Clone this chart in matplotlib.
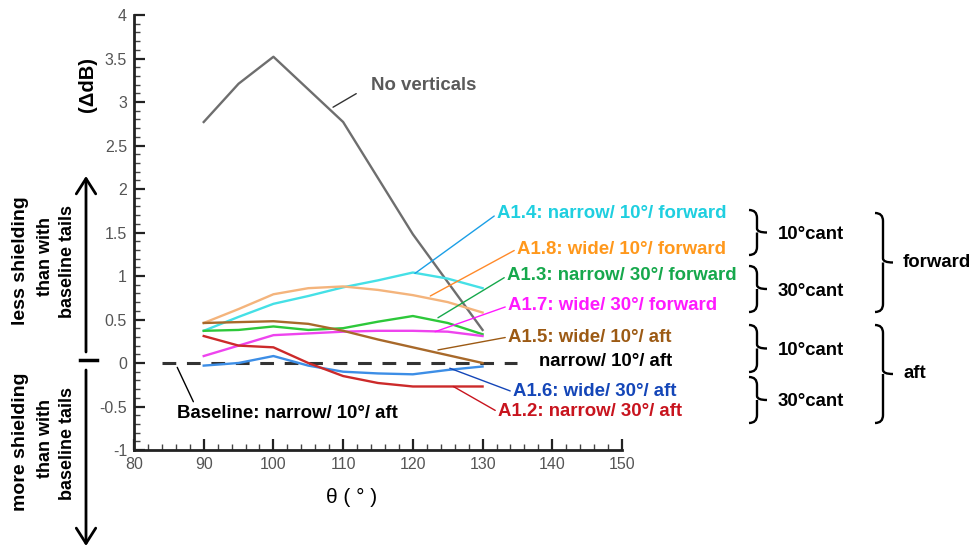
import numpy as np
import matplotlib
matplotlib.use("Agg")
import matplotlib.pyplot as plt
from matplotlib.path import Path
from matplotlib.patches import PathPatch
from matplotlib.ticker import MultipleLocator

plt.rcParams['font.family'] = ['Liberation Sans', 'DejaVu Sans']

# observer angle (deg) and delta dB relative to baseline tails
theta = [90, 95, 100, 105, 110, 115, 120, 125, 130]
a14 = [0.37, 0.53, 0.68, 0.77, 0.87, 0.95, 1.04, 0.97, 0.86]
a18 = [0.46, 0.62, 0.79, 0.86, 0.88, 0.84, 0.78, 0.70, 0.58]
a13 = [0.37, 0.38, 0.42, 0.38, 0.40, 0.475, 0.54, 0.46, 0.33]
a17 = [0.08, 0.20, 0.32, 0.34, 0.36, 0.37, 0.37, 0.36, 0.31]
a15 = [0.46, 0.47, 0.48, 0.45, 0.37, 0.27, 0.18, 0.09, 0.0]
a16 = [-0.03, 0.0, 0.08, -0.03, -0.10, -0.12, -0.13, -0.08, -0.04]
a12 = [0.31, 0.20, 0.18, 0.0, -0.15, -0.23, -0.27, -0.27, -0.27]

theta_nv = [90, 95, 100, 110, 120, 130]
no_vert = [2.77, 3.21, 3.52, 2.77, 1.48, 0.38]

# (values, line colour, label, label colour, leader colour, label pos px, leader tip in data)
series = [
    (a14, '#45e0e6', 'A1.4: narrow/ 10°/ forward', '#1fcfe0', '#1b9fe6', (497, 214), (120.3, 1.03)),
    (a18, '#f4b47c', 'A1.8: wide/ 10°/ forward', '#ff981c', '#ff8a2a', (517, 249), (122.5, 0.77)),
    (a13, '#2dc83a', 'A1.3: narrow/ 30°/ forward', '#16a84c', '#16a84c', (507, 276), (123.6, 0.52)),
    (a17, '#ee44ee', 'A1.7: wide/ 30°/ forward', '#ff1aff', '#ff1aff', (508, 306), (123.2, 0.36)),
    (a15, '#a8692a', 'A1.5: wide/ 10°/ aft', '#9c5a14', '#9c5a14', (508, 337), (123.6, 0.15)),
    (a16, '#3d8ee6', 'A1.6: wide/ 30°/ aft', '#1446b8', '#1446b8', (513, 392), (125.3, -0.06)),
    (a12, '#cc2a2a', 'A1.2: narrow/ 30°/ aft', '#c8141e', '#c8141e', (498, 412), (125.8, -0.27)),
]

fig = plt.figure(figsize=(9.73, 5.48), dpi=100)
ax = fig.add_axes([134 / 973, 1 - 450 / 548, 488 / 973, 435 / 548])
# overlay in pixel coordinates for the side notes and braces
ov = fig.add_axes([0, 0, 1, 1])
ov.set_xlim(0, 973)
ov.set_ylim(548, 0)
ov.axis('off')

ax.plot(theta_nv, no_vert, color='#6e6e6e', lw=1.7)
for vals, lc, lab, tc, arc, pos, tip in series:
    ax.plot(theta, vals, color=lc, lw=1.7)
    ax.annotate(lab, xy=tip, xycoords='data', xytext=pos, textcoords=ov.transData,
                ha='left', va='center', color=tc, fontsize=13.4, fontweight='bold',
                arrowprops=dict(arrowstyle='-', color=arc, lw=1, shrinkA=0, shrinkB=0,
                                relpos=(0, 0.5)))

ax.hlines(0, 84, 135, colors='#333333', lw=2.2, linestyles=(0, (4.5, 3.5)), zorder=1)

ax.annotate('No verticals', xy=(108.55, 2.94), xytext=(371, 85), textcoords=ov.transData,
            ha='left', va='center', color='#5a5a5a', fontsize=13.4, fontweight='bold',
            arrowprops=dict(arrowstyle='-', color='#333333', lw=1, shrinkA=10, shrinkB=0,
                            relpos=(0, 0.5)))
ax.annotate('Baseline: narrow/ 10°/ aft', xy=(86.2, -0.05), xytext=(177, 413),
            textcoords=ov.transData, ha='left', va='center', color='black',
            fontsize=13.4, fontweight='bold',
            arrowprops=dict(arrowstyle='-', color='black', lw=1, shrinkA=0, shrinkB=0,
                            relpos=(0.08, 1.0)))
ov.text(539, 362, 'narrow/ 10°/ aft', ha='left', va='center', fontsize=13.4,
        fontweight='bold', color='black')

ax.set_xlim(80, 150)
ax.set_ylim(-1, 4)
ax.set_xticks(np.arange(80, 151, 10))
ax.set_yticks(np.arange(-1, 4.01, 0.5))
ax.set_yticklabels(['%g' % v for v in np.arange(-1, 4.01, 0.5)])
ax.xaxis.set_minor_locator(MultipleLocator(2))
ax.yaxis.set_minor_locator(MultipleLocator(0.1))
ax.tick_params(which='major', direction='in', length=8, width=1.6, color='#222222',
               labelsize=11.5, labelcolor='#555555', pad=5)
ax.tick_params(which='minor', direction='in', length=4, width=1, color='#444444')
for s in ('top', 'right'):
    ax.spines[s].set_visible(False)
for s in ('left', 'bottom'):
    ax.spines[s].set_linewidth(2)
    ax.spines[s].set_color('#222222')
ax.patch.set_alpha(0)

ov.text(87, 84, '(ΔdB)', rotation=90, ha='center', va='center', fontsize=14.5,
        fontweight='bold')
ov.text(352, 497, 'θ ( ° )', ha='center', va='center', fontsize=15)

# shielding arrows on the left
ov.annotate('', xy=(86, 176), xytext=(86, 352),
            arrowprops=dict(arrowstyle='->,head_length=0.55,head_width=0.35',
                            mutation_scale=20, lw=2, color='black', shrinkA=0, shrinkB=0))
ov.annotate('', xy=(86, 546), xytext=(86, 370),
            arrowprops=dict(arrowstyle='->,head_length=0.55,head_width=0.35',
                            mutation_scale=20, lw=2, color='black', shrinkA=0, shrinkB=0))
ov.plot([80, 97], [360, 360], color='black', lw=2.5)
for cy, word in ((261, 'less shielding'), (442, 'more shielding')):
    ov.text(21, cy, word, rotation=90, ha='center', va='center', fontsize=14,
            fontweight='bold')
    ov.text(46, cy - 4, 'than with', rotation=90, ha='center', va='center',
            fontsize=13, fontweight='bold')
    ov.text(67, cy + 1, 'baseline tails', rotation=90, ha='center', va='center',
            fontsize=13, fontweight='bold')


def brace(x, y0, y1, tip=10, curl=8):
    mid = (y0 + y1) / 2
    verts = [(x - curl, y0), (x, y0), (x, y0 + curl),
             (x, mid - 4), (x, mid), (x + tip, mid),
             (x, mid), (x, mid), (x, mid + 4),
             (x, y1 - curl), (x, y1), (x - curl, y1)]
    codes = [Path.MOVETO, Path.CURVE3, Path.CURVE3,
             Path.LINETO, Path.CURVE3, Path.CURVE3,
             Path.MOVETO, Path.LINETO, Path.LINETO,
             Path.LINETO, Path.CURVE3, Path.CURVE3]
    ov.add_patch(PathPatch(Path(verts, codes), fill=False, lw=1.7, color='black'))


cant_groups = [(210, 255, '10°cant'), (266, 312, '30°cant'),
               (325, 372, '10°cant'), (377, 423, '30°cant')]
for y0, y1, lab in cant_groups:
    brace(757, y0, y1)
    ov.text(778, (y0 + y1) / 2 + 2, lab, ha='left', va='center', fontsize=13.4,
            fontweight='bold')
for y0, y1, lab in ((213, 312, 'forward'), (325, 423, 'aft')):
    brace(883, y0, y1)
    ov.text(903, (y0 + y1) / 2, lab, ha='left', va='center', fontsize=13.4,
            fontweight='bold')

fig.savefig('out.png', dpi=100)
